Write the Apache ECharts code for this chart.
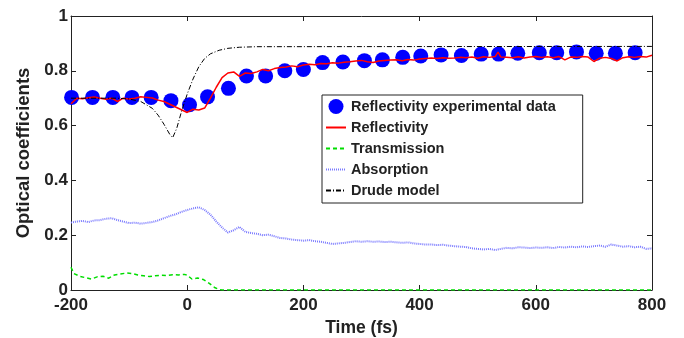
<!DOCTYPE html>
<html>
<head>
<meta charset="utf-8">
<script src="https://cdn.jsdelivr.net/npm/echarts@6/dist/echarts.min.js"></script>
<style>
  html, body { margin: 0; padding: 0; background: #fff; }
  #chart { width: 684px; height: 338px; }
</style>
</head>
<body>
<div id="chart"></div>
<script>
// values (time in fs)
const expTime = [-199, -163, -128, -95, -62, -28, 4, 35, 71, 102, 135, 168, 200, 233, 268,
  305, 336, 371, 402, 437, 472, 506, 536, 569, 606, 636, 670, 704, 737, 771];
const expRefl = [0.703, 0.703, 0.703, 0.703, 0.703, 0.691, 0.676, 0.705, 0.736, 0.781, 0.781, 0.800, 0.805, 0.830, 0.832,
  0.837, 0.840, 0.849, 0.854, 0.858, 0.856, 0.861, 0.861, 0.864, 0.866, 0.866, 0.869, 0.864, 0.864, 0.866];

const reflTime = [-200, -190, -180, -170, -160, -150, -140, -130, -120, -110, -100, -90, -80, -70, -60, -50, -40, -30, -20, -10,
  0, 10, 20, 30, 40, 50, 60, 70, 80, 90, 100, 110, 120, 130, 140, 150, 160, 170, 180, 190,
  200, 210, 220, 230, 240, 250, 260, 270, 280, 290, 300, 310, 320, 330, 340, 350, 360, 370, 380, 390,
  400, 410, 420, 430, 440, 450, 460, 470, 480, 490, 500, 510, 520, 530, 535, 540, 550, 560, 570, 580, 590,
  600, 610, 620, 630, 640, 650, 660, 670, 680, 690, 700, 710, 720, 730, 740, 750, 760, 770, 780, 790, 800];
const reflValue = [0.680, 0.700, 0.698, 0.702, 0.704, 0.700, 0.696, 0.700, 0.688, 0.700, 0.697, 0.700, 0.705, 0.703, 0.701, 0.693, 0.688, 0.678, 0.668, 0.658,
  0.648, 0.660, 0.657, 0.664, 0.700, 0.740, 0.775, 0.792, 0.796, 0.780, 0.792, 0.790, 0.796, 0.805, 0.800, 0.808, 0.812, 0.814, 0.818, 0.815,
  0.821, 0.824, 0.822, 0.827, 0.826, 0.829, 0.828, 0.831, 0.833, 0.836, 0.838, 0.833, 0.830, 0.836, 0.838, 0.839, 0.840, 0.837, 0.841, 0.839,
  0.843, 0.845, 0.847, 0.845, 0.848, 0.846, 0.847, 0.849, 0.848, 0.850, 0.846, 0.851, 0.849, 0.852, 0.868, 0.850, 0.849, 0.848, 0.851, 0.847, 0.850,
  0.852, 0.849, 0.851, 0.848, 0.852, 0.840, 0.850, 0.849, 0.852, 0.850, 0.834, 0.846, 0.849, 0.845, 0.836, 0.848, 0.851, 0.849, 0.852, 0.850, 0.857];

const transTime = [-200, -195, -185, -175, -165, -155, -145, -135, -125, -115, -105, -95, -85, -75, -65, -55, -45, -35, -25, -15,
  -5, 0, 8, 18, 28, 38, 48, 55, 60, 800];
const transValue = [0.083, 0.060, 0.050, 0.045, 0.040, 0.048, 0.050, 0.043, 0.055, 0.058, 0.062, 0.060, 0.055, 0.052, 0.049, 0.052, 0.054, 0.053, 0.056, 0.055,
  0.057, 0.054, 0.040, 0.044, 0.038, 0.024, 0.008, 0.002, 0, 0];

const absTime = reflTime.filter(t => t !== 535);
const absValue = [0.246, 0.250, 0.252, 0.248, 0.254, 0.255, 0.260, 0.262, 0.255, 0.250, 0.244, 0.246, 0.242, 0.245, 0.248, 0.254, 0.262, 0.270, 0.276, 0.285,
  0.292, 0.298, 0.302, 0.292, 0.275, 0.250, 0.228, 0.210, 0.218, 0.230, 0.212, 0.208, 0.205, 0.200, 0.202, 0.196, 0.190, 0.188, 0.184, 0.182,
  0.180, 0.182, 0.178, 0.176, 0.172, 0.168, 0.170, 0.172, 0.175, 0.178, 0.176, 0.178, 0.176, 0.177, 0.175, 0.176, 0.174, 0.172, 0.174, 0.170,
  0.168, 0.166, 0.166, 0.164, 0.165, 0.162, 0.160, 0.158, 0.157, 0.152, 0.150, 0.148, 0.150, 0.146, 0.150, 0.154, 0.152, 0.156, 0.155, 0.153,
  0.155, 0.154, 0.156, 0.153, 0.157, 0.155, 0.158, 0.156, 0.159, 0.157, 0.160, 0.162, 0.158, 0.166, 0.162, 0.158, 0.160, 0.156, 0.158, 0.150, 0.152];

const drudeTime = [-200, -120, -100, -80, -60, -50, -40, -30, -25, -18, -10, 0, 10, 20, 30, 40, 55, 70, 90, 120, 800];
const drudeValue = [0.700, 0.700, 0.697, 0.688, 0.663, 0.638, 0.605, 0.568, 0.556, 0.590, 0.650, 0.715, 0.770, 0.815, 0.845, 0.862, 0.875, 0.882, 0.886, 0.888, 0.889];

const xTicks = { min: -200, max: 800, interval: 200 };
const yTicks = { min: 0, max: 1, interval: 0.2 };

const zip = (xs, ys) => xs.map((x, i) => [x, ys[i]]);

const font = 'Liberation Sans, Arial, Helvetica, sans-serif';
const ink = '#222';

const chart = echarts.init(document.getElementById('chart'));

const frameAxis = (extra) => Object.assign({
  type: 'value',
  axisLine: { show: true, onZero: false, lineStyle: { color: ink, width: 1 } },
  axisTick: { show: true, inside: true, length: 5, lineStyle: { color: ink } },
  splitLine: { show: false },
}, extra);

// line entries in the legend: hide the marker, keep the stroke
const lineEntry = (name) => ({ name: name, itemStyle: { opacity: 0 } });

chart.setOption({
  animation: false,
  backgroundColor: '#fff',
  textStyle: { fontFamily: font },
  grid: { left: 71, right: 32, top: 16, bottom: 48, containLabel: false, outerBoundsMode: 'none' },
  legend: {
    orient: 'vertical',
    left: 322,
    top: 95,
    itemWidth: 20,
    itemHeight: 15,
    itemGap: 6,
    itemTextGap: 1,
    padding: [4, 27, 5, 3],
    borderColor: ink,
    borderWidth: 1,
    backgroundColor: '#fff',
    textStyle: { fontFamily: font, fontSize: 14.5, fontWeight: 'bold', color: ink },
    data: [
      { name: 'Reflectivity experimental data' },
      lineEntry('Reflectivity'),
      lineEntry('Transmission'),
      lineEntry('Absorption'),
      lineEntry('Drude model'),
    ],
  },
  xAxis: [
    frameAxis(Object.assign({}, xTicks, {
      position: 'bottom',
      name: 'Time (fs)',
      nameLocation: 'middle',
      nameGap: 29,
      nameTextStyle: { fontSize: 17.5, fontWeight: 'bold', color: ink },
      axisLabel: { margin: 7, fontSize: 17, fontWeight: 'bold', color: ink },
    })),
    frameAxis(Object.assign({}, xTicks, { position: 'top', axisLabel: { show: false } })),
  ],
  yAxis: [
    frameAxis(Object.assign({}, yTicks, {
      position: 'left',
      name: 'Optical coefficients',
      nameLocation: 'middle',
      nameGap: 38,
      nameTextStyle: { fontSize: 18.5, fontWeight: 'bold', color: ink },
      axisLabel: { margin: 3, fontSize: 17, fontWeight: 'bold', color: ink },
    })),
    frameAxis(Object.assign({}, yTicks, { position: 'right', axisLabel: { show: false } })),
  ],
  series: [
    {
      name: 'Reflectivity experimental data',
      type: 'scatter',
      symbol: 'circle',
      symbolSize: 15,
      itemStyle: { color: '#0000ff', opacity: 1 },
      data: zip(expTime, expRefl),
    },
    {
      name: 'Reflectivity',
      type: 'line',
      showSymbol: false,
      symbol: 'none',
      lineStyle: { color: '#ff0000', width: 1.5 },
      itemStyle: { color: '#ff0000' },
      data: zip(reflTime, reflValue),
    },
    {
      name: 'Transmission',
      type: 'line',
      showSymbol: false,
      symbol: 'none',
      lineStyle: { color: '#00dd00', width: 1.5, type: [4, 3] },
      itemStyle: { color: '#00dd00' },
      data: zip(transTime, transValue),
    },
    {
      name: 'Absorption',
      type: 'line',
      showSymbol: false,
      symbol: 'none',
      lineStyle: { color: '#7a7aff', width: 2, type: [1, 1] },
      itemStyle: { color: '#7a7aff' },
      data: zip(absTime, absValue),
    },
    {
      name: 'Drude model',
      type: 'line',
      showSymbol: false,
      symbol: 'none',
      lineStyle: { color: '#000', width: 1, type: [5, 2, 1, 2] },
      itemStyle: { color: '#000' },
      data: zip(drudeTime, drudeValue),
    },
  ],
});
</script>
</body>
</html>
